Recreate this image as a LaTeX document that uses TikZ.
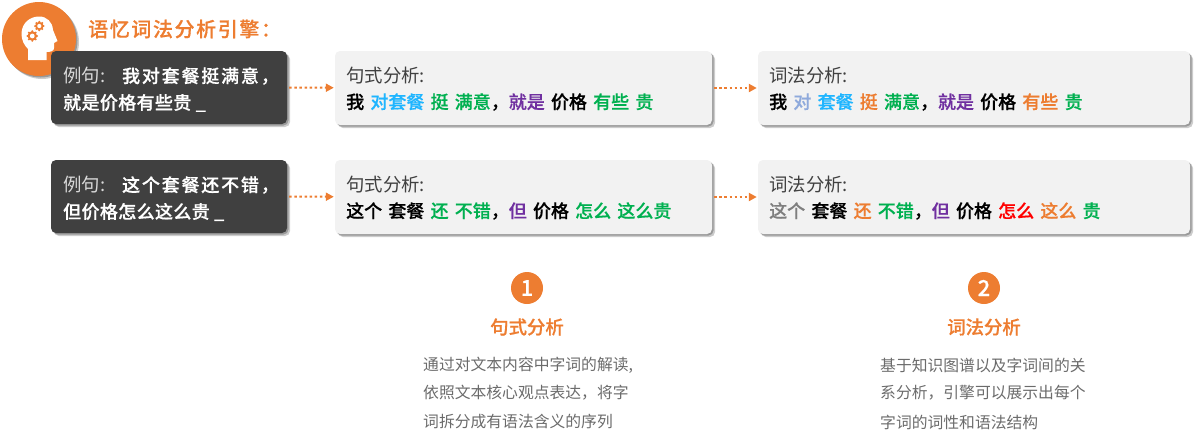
\documentclass[tikz,border=0pt]{standalone}
\usepackage{fontspec}
\usetikzlibrary{shadows,arrows.meta}
\setmainfont{Noto Sans CJK SC}
\newfontfamily\medf{Noto Sans CJK SC Medium}[FakeBold=0.5]
\definecolor{orangeA}{HTML}{ED7D31}
\definecolor{darkbox}{HTML}{404040}
\definecolor{lightbox}{HTML}{F2F2F2}
\definecolor{cblue}{HTML}{1FB5FF}
\definecolor{cgreen}{HTML}{00B050}
\definecolor{cpurple}{HTML}{7030A0}
\definecolor{cpale}{HTML}{8FAADC}
\definecolor{cgrey}{HTML}{7F7F7F}
\definecolor{cred}{HTML}{FF0000}
\newcommand{\gp}{\hspace{6.2pt}}
\tikzset{
  x=1pt,y=-1pt,
  soft shadow/.style={drop shadow={shadow xshift=1.5pt,shadow yshift=-1.5pt,fill=black,opacity=.25},drop shadow={shadow xshift=3pt,shadow yshift=-3pt,fill=black,opacity=.2}},
  shade box/.style={rounded corners=5pt,soft shadow},
  darkcard/.style={shade box,fill=darkbox,minimum width=236pt,minimum height=73pt,inner sep=0pt},
  lightcard/.style={shade box,fill=lightbox,minimum height=74pt,inner sep=0pt},
  flow/.style={orangeA,line width=2pt,dash pattern=on 2.5pt off 2.6pt,-{Triangle[length=8pt,width=8pt]},shorten >=1pt,shorten <=2pt},
  cardtext/.style={anchor=west,inner sep=0pt,font=\fontsize{18.4}{18}\selectfont},
  wordline/.style={anchor=west,inner sep=0pt,font=\medf\fontsize{18}{18}\selectfont},
  bodytext/.style={anchor=west,inner sep=0pt,text=black!58,font=\fontsize{15.8}{16}\selectfont},
  sechead/.style={anchor=center,inner sep=0pt,text=orangeA,font=\medf\fontsize{18.4}{18}\selectfont},
  numdisc/.style={circle,fill=orangeA,minimum size=32pt,inner sep=0pt,text=white,font=\medf\fontsize{22}{22}\selectfont},
}
\begin{document}
\begin{tikzpicture}
\useasboundingbox (0,0) rectangle (1200,437);
% logo
\node[circle,fill=orangeA,minimum size=74pt,inner sep=0pt,soft shadow] (logo) at (39,39) {};
\fill[white] (28,60) -- (28,49) .. controls (24,45) and (21.5,40) .. (21.5,34)
  .. controls (21.5,23) and (30,16.5) .. (39,16.5)
  .. controls (47,16.5) and (52.5,22) .. (53,30)
  -- (57.5,41) -- (54,43) -- (54,48) .. controls (54,51) and (51,52) .. (46.5,52) -- (46.5,60) -- cycle;
\foreach \c/\r in {{(39.3,26)}/4.2,{(32.3,36)}/4.8}{
  \fill[orangeA] \c circle (\r);
  \foreach \a in {0,45,...,315}{\fill[orangeA] \c ++(\a:\r) circle (1.1);}
  \fill[white] \c circle (\r*.5);
}
\node[anchor=west,inner sep=0pt,text=orangeA,font=\medf\fontsize{20}{20}\selectfont] (title) at (88,29) {\addfontfeature{LetterSpace=8}语忆词法分析引擎：};
% cards
\node[darkcard] (ex1) at (169,87.5) {};
\node[darkcard] (ex2) at (169,196.5) {};
\node[lightcard,minimum width=377pt] (syn1) at (523.5,88) {};
\node[lightcard,minimum width=377pt] (syn2) at (523.5,197) {};
\node[lightcard,minimum width=432pt] (lex1) at (974,88) {};
\node[lightcard,minimum width=432pt] (lex2) at (974,197) {};
% connectors
\draw[flow] (ex1) -- (syn1);
\draw[flow] (syn1) -- (lex1);
\draw[flow] (ex2) -- (syn2);
\draw[flow] (syn2) -- (lex2);
% example texts
\node[cardtext,text=white!85!black] (ex1a) at (63,76) {例句:\hspace{17pt}\textcolor{white}{\medf\fontsize{18}{18}\selectfont\addfontfeature{LetterSpace=10}我对套餐挺满意，}};
\node[cardtext,text=white,font=\medf\fontsize{18}{18}\selectfont] (ex1b) at (63,103) {\addfontfeature{LetterSpace=2}就是价格有些贵 \_};
\node[cardtext,text=white!85!black] (ex2a) at (63,185) {例句:\hspace{17pt}\textcolor{white}{\medf\fontsize{18}{18}\selectfont\addfontfeature{LetterSpace=10}这个套餐还不错，}};
\node[cardtext,text=white,font=\medf\fontsize{18}{18}\selectfont] (ex2b) at (63,212) {\addfontfeature{LetterSpace=2}但价格怎么这么贵 \_};
% syntax cards
\node[cardtext,text=darkbox] (syn1a) at (346,76) {句式分析:};
\node[wordline] (syn1b) at (346,102) {我\gp\textcolor{cblue}{对套餐}\gp\textcolor{cgreen}{挺}\gp\textcolor{cgreen}{满意}，\textcolor{cpurple}{就是}\gp 价格\gp\textcolor{cgreen}{有些}\gp\textcolor{cgreen}{贵}};
\node[cardtext,text=darkbox] (syn2a) at (346,185) {句式分析:};
\node[wordline] (syn2b) at (346,211) {这个\gp 套餐\gp\textcolor{cgreen}{还}\gp\textcolor{cgreen}{不错}，\textcolor{cpurple}{但}\gp 价格\gp\textcolor{cgreen}{怎么}\gp\textcolor{cgreen}{这么贵}};
% lexical cards
\node[cardtext,text=darkbox] (lex1a) at (769,76) {词法分析:};
\node[wordline] (lex1b) at (769,102) {我\gp\textcolor{cpale}{对}\gp\textcolor{cblue}{套餐}\gp\textcolor{orangeA}{挺}\gp\textcolor{cgreen}{满意}，\textcolor{cpurple}{就是}\gp 价格\gp\textcolor{orangeA}{有些}\gp\textcolor{cgreen}{贵}};
\node[cardtext,text=darkbox] (lex2a) at (769,185) {词法分析:};
\node[wordline] (lex2b) at (769,211) {\textcolor{cgrey}{这个}\gp 套餐\gp\textcolor{orangeA}{还}\gp\textcolor{cgreen}{不错}，\textcolor{cpurple}{但}\gp 价格\gp\textcolor{cred}{怎么}\gp\textcolor{orangeA}{这么}\gp\textcolor{cgreen}{贵}};
% bottom
\node[numdisc] (n1) at (527,288) {1};
\node[sechead] (h1) at (527,327) {句式分析};
\node[bodytext] (b1a) at (423,365) {通过对文本内容中字词的解读,};
\node[bodytext] (b1b) at (423,393) {依照文本核心观点表达，将字};
\node[bodytext] (b1c) at (423,422) {词拆分成有语法含义的序列};
\node[numdisc] (n2) at (984,288) {2};
\node[sechead] (h2) at (984,327) {词法分析};
\node[bodytext] (b2a) at (880,365) {基于知识图谱以及字词间的关};
\node[bodytext] (b2b) at (880,393) {系分析，引擎可以展示出每个};
\node[bodytext] (b2c) at (880,422) {字词的词性和语法结构};
\end{tikzpicture}
\end{document}
